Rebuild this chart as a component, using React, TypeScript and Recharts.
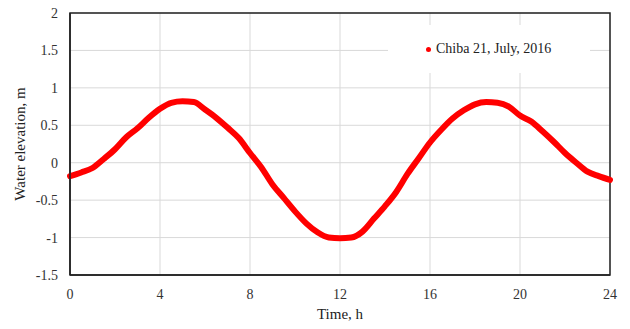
import React from "react";
import {
  LineChart,
  Line,
  XAxis,
  YAxis,
  CartesianGrid,
  Legend,
  ReferenceArea,
} from "recharts";

const times = [
  0, 0.5, 1, 1.5, 2, 2.5, 3, 3.5, 4, 4.5, 5, 5.5, 6, 6.5, 7, 7.5, 8, 8.5, 9, 9.5,
  10, 10.5, 11, 11.5, 12, 12.5, 13, 13.5, 14, 14.5, 15, 15.5, 16, 16.5, 17, 17.5,
  18, 18.5, 19, 19.5, 20, 20.5, 21, 21.5, 22, 22.5, 23, 23.5, 24,
];
const elevation = [
  -0.18, -0.13, -0.07, 0.05, 0.18, 0.34, 0.46, 0.6, 0.72, 0.8, 0.82, 0.81, 0.71,
  0.6, 0.47, 0.33, 0.13, -0.06, -0.29, -0.47, -0.65, -0.81, -0.93, -1.0, -1.01,
  -1.0, -0.92, -0.75, -0.58, -0.39, -0.15, 0.06, 0.27, 0.44, 0.59, 0.7, 0.78,
  0.81, 0.8, 0.75, 0.63, 0.55, 0.42, 0.28, 0.13, 0.0, -0.12, -0.18, -0.23,
];
const xTicks = [0, 4, 8, 12, 16, 20, 24];
const yTicks = [-1.5, -1, -0.5, 0, 0.5, 1, 1.5, 2];
const seriesName = "Chiba 21, July, 2016";

const data = times.map((t, i) => ({ t, v: elevation[i] }));

const FONT = "Liberation Serif, serif";

const XTick = (props: any) => {
  const { x, y, payload } = props;
  return (
    <text
      x={x}
      y={y}
      dy={12}
      textAnchor="middle"
      fontFamily={FONT}
      fontSize={14}
      fill="#333"
    >
      {payload.value}
    </text>
  );
};

const YTick = (props: any) => {
  const { x, y, payload } = props;
  return (
    <text
      x={x}
      y={y}
      dy={5}
      textAnchor="end"
      fontFamily={FONT}
      fontSize={14}
      fill="#333"
    >
      {payload.value}
    </text>
  );
};

const LegendContent = () => (
  <div
    style={{
      display: "flex",
      alignItems: "center",
      fontFamily: FONT,
      fontSize: 14,
      color: "#222",
      height: "100%",
      paddingLeft: 38,
      boxSizing: "border-box",
    }}
  >
    <span
      style={{
        display: "inline-block",
        width: 5,
        height: 5,
        borderRadius: "50%",
        background: "#ff0000",
        marginRight: 5,
      }}
    />
    <span>{seriesName}</span>
  </div>
);

export default function App() {
  return (
    <div
      style={{
        position: "absolute",
        left: 0,
        top: 0,
        background: "#fff",
        fontFamily: FONT,
      }}
    >
      <LineChart
        width={630}
        height={329}
        data={data}
        margin={{ top: 13, right: 20, bottom: 8, left: 0 }}
      >
        <CartesianGrid stroke="#d9d9d9" strokeWidth={1} />
        <XAxis
          dataKey="t"
          type="number"
          domain={[0, 24]}
          ticks={xTicks}
          tickLine={false}
          axisLine={{ stroke: "#222", strokeWidth: 1.5 }}
          tick={<XTick />}
          tickMargin={6}
          height={46}
          label={{
            value: "Time, h",
            position: "insideBottom",
            offset: 2,
            style: { fontFamily: FONT, fontSize: 15, fill: "#222" },
          }}
        />
        <YAxis
          type="number"
          domain={[-1.5, 2]}
          ticks={yTicks}
          tickLine={false}
          axisLine={{ stroke: "#222", strokeWidth: 1.5 }}
          tick={<YTick />}
          tickMargin={6}
          width={70}
          label={{
            value: "Water elevation, m",
            angle: -90,
            position: "insideLeft",
            offset: 20,
            style: { fontFamily: FONT, fontSize: 15, fill: "#222", textAnchor: "middle" },
          }}
        />
        <ReferenceArea
          x1={0}
          x2={24}
          y1={-1.5}
          y2={2}
          fill="none"
          stroke="#222"
          strokeWidth={1.5}
          ifOverflow="visible"
        />
        <Line
          type="monotone"
          dataKey="v"
          name={seriesName}
          stroke="#ff0000"
          strokeWidth={6}
          strokeLinecap="round"
          strokeLinejoin="round"
          dot={false}
          isAnimationActive={false}
        />
        <Legend
          layout="horizontal"
          verticalAlign="middle"
          align="center"
          content={<LegendContent />}
          wrapperStyle={{
            position: "absolute",
            left: 388,
            top: 25,
            width: 202,
            height: 48,
            background: "#fff",
          }}
        />
      </LineChart>
    </div>
  );
}
